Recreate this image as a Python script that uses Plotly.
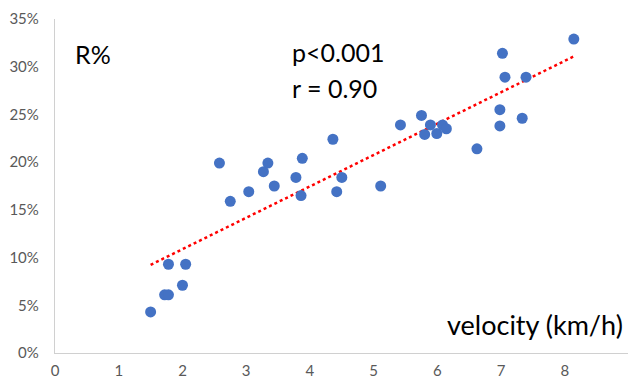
import numpy as np
import plotly.graph_objects as go

velocity = [1.50, 1.72, 1.78, 1.78, 2.00, 2.05, 2.58, 2.75, 3.04, 3.27, 3.34, 3.44,
            3.78, 3.88, 3.86, 4.36, 4.42, 4.50, 5.11, 5.42, 5.75, 5.80, 5.89, 5.99,
            6.08, 6.14, 6.62, 6.98, 6.98, 7.02, 7.06, 7.33, 7.39, 8.14]
r_pct = [4.3, 6.1, 6.1, 9.3, 7.1, 9.3, 19.9, 15.9, 16.9, 19.0, 19.9, 17.5,
         18.4, 20.4, 16.5, 22.4, 16.9, 18.4, 17.5, 23.9, 24.9, 22.9, 23.9, 23.0,
         23.9, 23.5, 21.4, 25.5, 23.8, 31.4, 28.9, 24.6, 28.9, 32.9]
r_frac = [v / 100 for v in r_pct]

x_ticks = [0, 1, 2, 3, 4, 5, 6, 7, 8]
y_ticks = [0, 0.05, 0.10, 0.15, 0.20, 0.25, 0.30, 0.35]

slope, intercept = np.polyfit(velocity, r_frac, 1)
tx = [min(velocity), max(velocity)]
ty = [slope * v + intercept for v in tx]

fig = go.Figure()
fig.add_trace(go.Scatter(x=tx, y=ty, mode="lines",
                         line=dict(color="#FF0000", width=2.5, dash="dot"),
                         hoverinfo="skip", showlegend=False))
fig.add_trace(go.Scatter(x=velocity, y=r_frac, mode="markers",
                         marker=dict(color="#4472C4", size=11),
                         showlegend=False))

tick_font = dict(family="Lato, 'Open Sans', sans-serif", size=15, color="#595959")
fig.update_xaxes(range=[0, 8.99], tickvals=x_ticks, showgrid=False, zeroline=False,
                 showline=True, linecolor="#D0D0D0", linewidth=1.3, automargin=False,
                 tickfont=tick_font, ticks="", ticklabelstandoff=4)
fig.update_yaxes(range=[0, 0.35], tickvals=y_ticks, tickformat=".0%", showgrid=False,
                 zeroline=False, showline=True, linecolor="#D0D0D0", linewidth=1.3,
                 automargin=False,
                 tickfont=tick_font, ticks="", ticklabelstandoff=12)

ann_font = dict(family="Lato, 'Open Sans', sans-serif", size=25, color="#000000")
anns = [
    ("R%", 0.031, 0.895, "left", 25),
    ("p<0.001", 0.410, 0.901, "left", 25),
    ("r = 0.90", 0.410, 0.793, "left", 25),
    ("velocity (km/h)", 0.995, 0.084, "right", 27),
]
for text, ax, ay, xa, sz in anns:
    f = dict(ann_font, size=sz)
    fig.add_annotation(text=text, x=ax, y=ay, xref="paper", yref="paper",
                       xanchor=xa, yanchor="middle", showarrow=False, font=f)

fig.update_layout(width=628, height=380, margin=dict(l=55, r=0, t=19, b=27),
                  plot_bgcolor="white", paper_bgcolor="white")
fig.write_html("out.html")
